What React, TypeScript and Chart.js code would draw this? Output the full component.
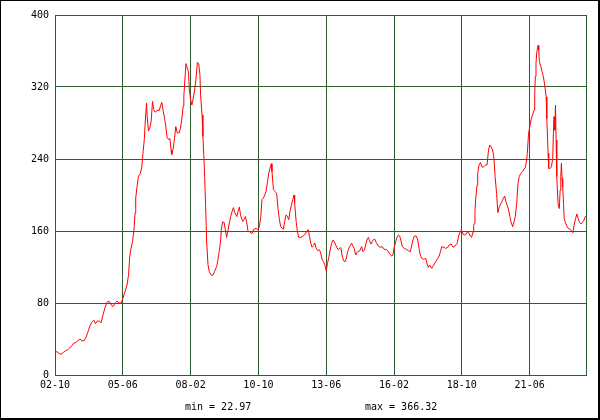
import React, { useEffect, useRef } from "react";
import { Chart, registerables } from "chart.js";

Chart.register(...registerables);

// months since 2002-10
const monthOffsets: number[] = [
  0, 0.95, 1.9, 2.8, 3.9, 5.0, 6.0, 6.9, 7.9, 8.8, 9.8, 10.7, 11.8, 12.6, 13.7, 14.7, 15.4, 16.4, 17.3, 18.3,
  19.1, 20.0, 21.0, 21.7, 22.7, 23.6, 24.6, 25.5, 26.5, 27.4, 28.4, 29.3, 30.2, 31.2, 32.1, 33.1, 34.0, 34.7, 35.3, 35.9,
  36.6, 37.2, 37.8, 38.1, 38.8, 39.4, 40.3, 41.0, 41.6, 42.2, 42.5, 43.2, 43.5, 44.1, 44.7, 45.4, 46.0, 46.6, 47.3, 48.2,
  49.2, 49.8, 50.4, 51.0, 51.7, 52.3, 52.9, 53.6, 54.2, 54.8, 55.1, 55.8, 56.4, 57.0, 57.7, 58.6, 59.2, 59.9, 60.5, 60.8,
  61.1, 61.8, 62.4, 63.0, 63.4, 64.0, 64.6, 65.3, 65.9, 66.5, 67.2, 67.8, 68.4, 68.7, 69.4, 69.8, 70.3, 70.6, 71.1, 71.6,
  72.2, 72.8, 73.5, 74.4, 75.3, 76.3, 76.9, 77.6, 78.2, 78.5, 79.1, 79.8, 80.4, 81.0, 81.7, 82.3, 82.9, 83.6, 84.2, 84.8,
  85.8, 86.4, 87.0, 87.6, 88.6, 89.2, 89.9, 90.5, 91.1, 92.0, 93.0, 93.9, 94.9, 95.8, 96.5, 97.1, 97.7, 98.4, 99.0, 99.6,
  100.3, 100.9, 101.5, 102.1, 102.4, 103.1, 103.7, 104.6, 105.3, 105.9, 106.5, 107.2, 107.8, 108.4, 109.1, 109.7, 110.3, 110.9, 111.6, 112.2,
  112.8, 113.1, 113.8, 114.4, 115.0, 116.0, 116.9, 117.9, 118.8, 119.5, 120.1, 120.7, 121.3, 122.0, 122.6, 123.2, 123.8, 124.8, 125.4, 126.1,
  126.7, 127.3, 128.0, 128.6, 129.3, 129.9, 130.5, 131.2, 131.8, 132.7, 133.7, 134.3, 134.9, 135.6, 136.2, 136.8, 137.5, 138.1, 139.0, 140.0,
  140.6, 141.2, 141.9, 142.8, 143.8, 144.7, 145.3, 146.0, 146.6, 147.2, 147.9, 148.5, 149.1, 149.7, 150.4, 151.0, 151.6, 152.6, 153.5, 154.5,
  155.4, 156.4, 157.3, 157.9, 158.9, 159.5, 160.1, 160.8, 161.4, 162.0, 162.7, 163.3, 163.9, 164.9, 165.8, 166.8, 167.7, 168.3, 169.0, 169.6,
  170.5, 171.2, 171.8, 172.4, 173.1, 174.0, 175.0, 175.6, 176.2, 176.8, 177.8, 178.4, 179.4, 180.3, 181.3, 181.9, 182.5, 183.5, 184.4, 185.4,
  186.0, 187.0, 187.9, 188.8, 189.8, 190.6, 191.2, 191.8, 192.5, 193.1, 194.1, 194.7, 195.3, 196.0, 196.6, 197.3, 197.6, 197.9, 198.2, 198.5,
  199.2, 199.5, 200.1, 200.8, 201.4, 202.0, 202.7, 203.3, 203.9, 204.6, 205.2, 205.9, 206.5, 207.1, 207.7, 208.4, 209.0, 209.7, 210.3, 210.9,
  211.6, 212.2, 212.8, 213.5, 214.1, 214.7, 215.3, 216.0, 216.6, 217.2, 217.9, 218.5, 219.1, 219.8, 220.7, 221.3, 222.0, 222.6, 222.9, 223.5,
  224.2, 224.8, 225.4, 226.1, 226.4, 226.7, 227.0, 227.4, 228.0, 228.3, 228.6, 229.3, 229.9, 230.5, 231.1, 231.8, 232.1, 232.7, 233.0, 233.7,
  234.3, 234.9, 235.2, 235.5, 235.9, 236.2, 236.5, 236.8, 237.4, 238.0, 238.4, 238.7, 239.0, 239.3, 239.6, 240.0, 240.3, 240.9, 241.5, 242.2,
  243.1, 243.8, 244.4, 245.0, 245.7, 246.3, 246.9, 247.6, 248.2, 248.8, 249.5, 250.1, 250.6,
];

const values: number[] = [
  25, 26, 24, 22.97, 25, 27, 28, 30, 32.5, 35.5, 36, 38, 40, 38, 38, 42, 47, 54, 58.5, 61,
  57, 60, 60, 58, 67, 75, 81, 82, 78, 76, 80, 82, 80, 80, 85.5, 93, 100, 111, 132, 141,
  148.5, 160, 180, 196.7, 211, 221, 224, 232, 248.5, 263, 278, 302, 287, 271, 274, 282, 304, 295, 292, 294,
  294, 299, 303, 294, 285.5, 276, 264, 261.5, 263, 250, 245, 252, 263, 276, 269, 269, 274, 285.5, 298.5, 309.6,
  321, 346, 341, 337, 317, 306, 300, 308, 317, 328, 347.4, 346, 333.7, 311.5, 289, 265, 241, 220.7, 187.4, 146.7,
  122.6, 115, 111.5, 110.4, 115, 120.7, 128, 139, 150, 162, 170, 169.6, 161.5, 153, 161.5, 169, 176, 182, 186, 180.7,
  176, 182, 186.7, 177, 170.7, 172.6, 176, 169, 159.6, 159, 157, 162, 163, 161.5, 165, 176, 195, 196.7, 200, 204,
  215, 224.4, 230, 234.8, 226, 206, 204, 202, 183.7, 172.6, 165, 163, 162, 170.7, 178, 176, 172.6, 182, 189, 195,
  200, 191, 170.7, 159.6, 153, 153, 154, 156, 159.6, 161.5, 154, 146.7, 142, 143.7, 146.7, 141, 138.5, 139, 135.5, 128,
  126, 122.6, 116, 124, 131.5, 139, 146.3, 150, 148, 143.3, 139, 140.7, 141.5, 131.5, 127, 125.6, 129.6, 137, 142.6, 146.3,
  143.3, 140.7, 133.3, 137, 137.8, 142.6, 137, 139, 144.4, 150, 153, 149, 145.5, 148, 150.7, 150.7, 147, 143.3, 141.9, 142.6,
  139.6, 139.6, 137, 135, 132, 133.3, 141.9, 148, 153, 155.6, 154.4, 149, 142.6, 140.7, 139.6, 138, 137, 143.3, 150.7, 154.4,
  154.4, 150, 140.7, 133.3, 129.6, 128.5, 129.6, 123.3, 119.6, 122.2, 118.5, 121, 124.8, 128.5, 132.2, 137, 142.6, 141.9, 140.7, 141.9,
  144.4, 145.5, 141.9, 143.3, 146.3, 155.6, 159, 161, 156.7, 155.6, 156.7, 159, 158, 154.4, 153, 159, 166.7, 168.5, 181.5, 194.4,
  211, 224, 233.3, 236, 231.5, 230.7, 232.2, 233.3, 233.3, 250, 255.6, 253, 250, 242.6, 220.4, 201.9, 180.4, 187, 190, 192.6,
  196.3, 198.9, 192.6, 187.8, 183.3, 176, 169.3, 164.8, 170.4, 176, 190.7, 213, 220.4, 224, 226, 228.5, 230.7, 238.9, 246.3, 268.5,
  277.8, 285.2, 288.9, 294.4, 313, 331.5, 346.3, 359.3, 366.32, 361, 348, 342.6, 337, 331.5, 322, 309, 285, 246.3, 229.6, 229.6,
  231.5, 240.7, 268.5, 287, 272, 300, 261, 220.4, 190.7, 185, 205.6, 220.4, 235.2, 218.5, 209, 190.7, 174, 169.3, 165.6, 163,
  161.9, 160.4, 158.1, 166.7, 174, 178.9, 174, 169.3, 167.8, 169.3, 171.5, 175.2, 176.7,
];

const tickLabels: string[] = ["02-10", "05-06", "08-02", "10-10", "13-06", "16-02", "18-10", "21-06"];
const tickMonths: number[] = [0, 32, 64, 96, 128, 160, 192, 224];
const lastMonth = 250.6;
const yTicks: number[] = [0, 80, 160, 240, 320, 400];
const minText = "min = 22.97";
const maxText = "max = 366.32";

const GRID = "#2f5f2f";
const FONT = "DejaVu Sans Mono";

export default function App() {
  const ref = useRef<HTMLCanvasElement | null>(null);

  useEffect(() => {
    if (!ref.current) return;
    const framePlugin = {
      id: "frame",
      afterDraw(chart: any) {
        const ctx = chart.ctx;
        ctx.save();
        ctx.fillStyle = "#000";
        ctx.fillRect(0, 0, 600, 1);
        ctx.fillRect(0, 0, 1, 420);
        ctx.fillRect(598, 0, 2, 420);
        ctx.fillRect(0, 418, 600, 2);
        ctx.font = `10px "${FONT}"`;
        ctx.textBaseline = "middle";
        ctx.textAlign = "left";
        ctx.fillText(minText, 185, 407);
        ctx.fillText(maxText, 365, 407);
        ctx.restore();
      },
    };

    const chart = new Chart(ref.current, {
      type: "line",
      data: {
        datasets: [
          {
            data: monthOffsets.map((m, i) => ({ x: m, y: values[i] })),
            borderColor: "#ff0000",
            borderWidth: 1,
            pointRadius: 0,
            tension: 0,
            fill: false,
          },
        ],
      },
      options: {
        responsive: false,
        animation: false,
        devicePixelRatio: 1,
        layout: { padding: { left: 0, top: 15, right: 14, bottom: 0 } },
        plugins: { legend: { display: false }, tooltip: { enabled: false } },
        scales: {
          x: {
            type: "linear",
            min: 0,
            max: lastMonth,
            afterBuildTicks: (scale: any) => {
              scale.ticks = [...tickMonths, lastMonth].map((v) => ({ value: v }));
            },
            afterFit: (scale: any) => {
              scale.height = 45;
            },
            grid: { color: GRID, lineWidth: 1, drawTicks: false },
            border: { color: GRID, width: 1 },
            ticks: {
              autoSkip: false,
              maxRotation: 0,
              padding: 4,
              color: "#000",
              font: { family: FONT, size: 10 },
              callback: (v: any) => {
                const idx = tickMonths.indexOf(Number(v));
                return idx >= 0 ? tickLabels[idx] : "";
              },
            },
          },
          y: {
            min: 0,
            max: 400,
            afterBuildTicks: (scale: any) => {
              scale.ticks = yTicks.map((v) => ({ value: v }));
            },
            afterFit: (scale: any) => {
              scale.width = 55;
            },
            grid: { color: GRID, lineWidth: 1, drawTicks: false },
            border: { color: GRID, width: 1 },
            ticks: {
              padding: 6,
              color: "#000",
              font: { family: FONT, size: 10 },
            },
          },
        },
      },
      plugins: [framePlugin],
    });
    return () => chart.destroy();
  }, []);

  return (
    <div style={{ position: "fixed", left: 0, top: 0, width: 600, height: 420, background: "#fff" }}>
      <canvas ref={ref} width={600} height={420} style={{ display: "block" }} />
    </div>
  );
}
